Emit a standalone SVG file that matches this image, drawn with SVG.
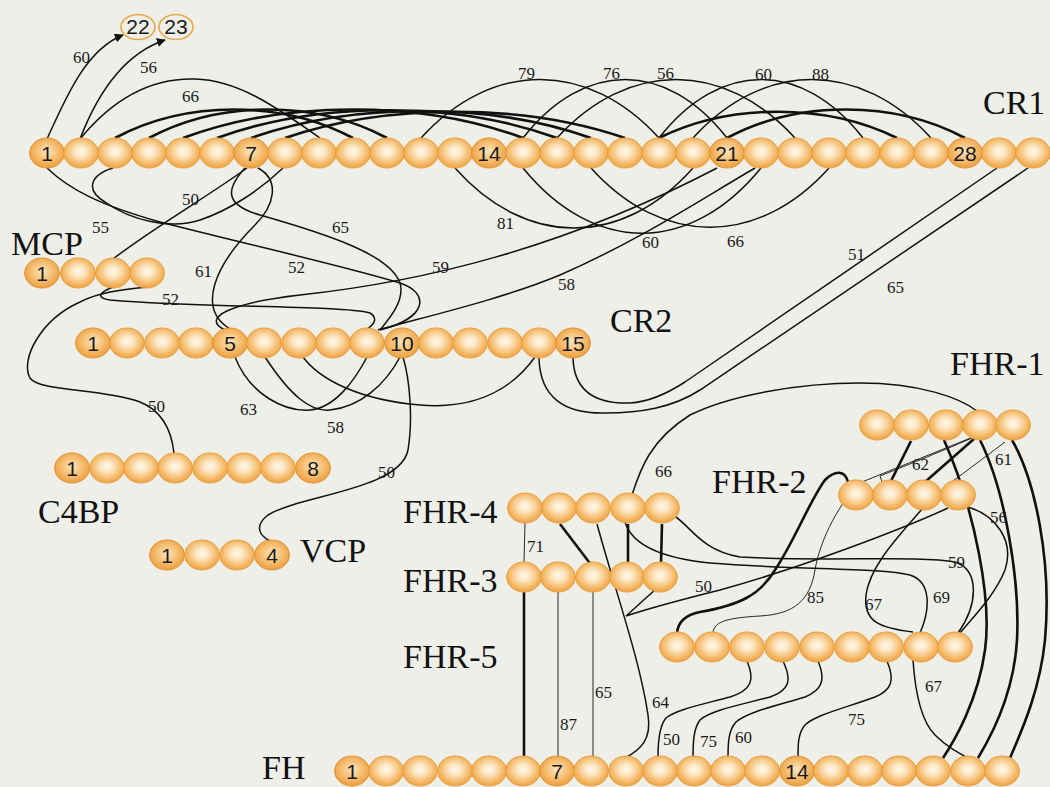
<svg xmlns="http://www.w3.org/2000/svg" width="1050" height="787" viewBox="0 0 1050 787">
<defs>
<radialGradient id="gb" cx="50%" cy="45%" r="55%">
<stop offset="0" stop-color="#fffaf0"/><stop offset="0.35" stop-color="#fbe3bc"/><stop offset="0.75" stop-color="#f5ba6a"/><stop offset="1" stop-color="#eda244"/>
</radialGradient>
<radialGradient id="gn" cx="50%" cy="45%" r="55%">
<stop offset="0" stop-color="#fce6c2"/><stop offset="0.5" stop-color="#f7c27a"/><stop offset="1" stop-color="#ec9e3c"/>
</radialGradient>
<marker id="arr" viewBox="0 0 10 10" refX="9" refY="5" markerWidth="9" markerHeight="9" orient="auto" markerUnits="userSpaceOnUse">
<path d="M0,0 L10,5 L0,10 z" fill="#111"/>
</marker>
<style>
.b{fill:url(#gb);stroke:#e9a040;stroke-width:1}
.n{fill:url(#gn);stroke:#e29230;stroke-width:1}
.c{fill:none;stroke:#111;stroke-width:1.5}
.k{fill:none;stroke:#111;stroke-width:2.6}
.t{fill:none;stroke:#111;stroke-width:0.9}
.num{font-family:"Liberation Sans",Arial,sans-serif;font-size:21px;fill:#1a1a1a;text-anchor:middle}
.lab{font-family:"Liberation Serif","Times New Roman",serif;font-size:17px;fill:#1a1a1a}
.big{font-family:"Liberation Serif","Times New Roman",serif;font-size:34px;fill:#111}
</style>
</defs>
<rect width="1050" height="787" fill="#eeefe8"/>

<g id="connectors">
<path class="c" d="M47,139 C65,100 85,50 123,35" marker-end="url(#arr)"/>
<path class="c" d="M80,139 C95,100 120,55 165,40" marker-end="url(#arr)"/>
<path class="c" d="M80,139 C120,90 160,78 195,79 C240,80 280,110 320,138"/>
<path class="k" d="M115,138 C186,100 282,100 353,138"/>
<path class="k" d="M149,138 C220,100 316,100 387,138"/>
<path class="k" d="M183,138 C285,100 421,100 523,138"/>
<path class="k" d="M217,138 C319,101 455,101 557,138"/>
<path class="k" d="M251,138 C353,102 489,102 591,138"/>
<path class="k" d="M285,138 C387,103 523,103 625,138"/>
<path class="k" d="M659,138 C730,103 826,103 897,138"/>
<path class="k" d="M727,138 C798,100 894,100 965,138"/>
<path class="c" d="M421,138 C492,60 588,60 659,138"/>
<path class="c" d="M523,138 C584,60 666,60 727,138"/>
<path class="c" d="M557,138 C628,60 724,60 795,138"/>
<path class="c" d="M659,138 C720,60 802,60 863,138"/>
<path class="c" d="M693,138 C764,60 860,60 931,138"/>
<path class="c" d="M455,168 C526,248 622,248 693,168"/>
<path class="c" d="M523,168 C594,255 690,255 761,168"/>
<path class="c" d="M591,168 C662,247 758,247 829,168"/>
<path class="c" d="M225,330 C200,318 230,303 300,295 C420,282 560,250 717,168"/>
<path class="c" d="M378,330 C420,318 500,300 560,275 C640,240 700,200 755,168"/>
<path class="c" d="M245,168 C225,190 225,205 260,215 C330,235 390,255 400,283 C405,300 390,318 380,330"/>
<path class="c" d="M47,168 C70,190 100,205 160,222 C250,245 340,265 400,283 C430,293 428,318 380,330"/>
<path class="c" d="M258,168 C280,180 275,205 255,225 C215,265 195,310 232,330"/>
<path class="c" d="M247,168 C210,195 150,230 113,259"/>
<path class="c" d="M113,168 C90,175 85,190 105,202 C130,220 170,230 200,220 C230,210 260,190 283,168"/>
<path class="c" d="M113,287 C100,292 95,298 110,300 C200,308 340,305 370,313 C378,318 375,325 365,330"/>
<path class="c" d="M147,287 C120,290 100,292 80,302 C40,320 20,360 30,378 C40,392 100,388 140,402 C165,412 172,435 174,453"/>
<path class="c" d="M235,357 C250,395 285,412 310,410 C335,408 355,380 367,357"/>
<path class="c" d="M265,357 C290,395 310,412 330,410 C360,407 385,385 400,357"/>
<path class="c" d="M303,357 C320,380 360,400 420,405 C480,410 515,385 535,357"/>
<path class="c" d="M403,357 C410,380 413,420 408,450 C400,490 300,495 268,515 C255,525 258,535 270,541"/>
<path class="c" d="M573,358 C574,392 596,404 630,403 C650,402 668,393 685,382 L997,168"/>
<path class="c" d="M539,358 C540,398 565,414 605,413 C640,413 672,408 700,390 L1028,168"/>
<path class="t" d="M525,523 L524,562"/>
<path class="k" d="M560,524 L592,566"/>
<path class="k" d="M628,524 L628,563"/>
<path class="k" d="M662,524 L661,563"/>
<path class="c" d="M597,524 C615,590 640,660 648,715 C652,740 640,750 625,758"/>
<path class="c" d="M632,495 C640,470 650,440 690,415 C730,395 800,383 860,383 C920,383 960,398 977,411"/>
<path class="c" d="M625,522 C632,545 660,558 710,563 C800,570 880,568 910,575 C932,582 930,610 920,633"/>
<path class="c" d="M673,515 C690,525 700,550 740,557 C820,562 920,555 955,562 C980,570 978,605 958,633"/>
<path class="c" d="M657,588 L626,616 C650,608 680,600 720,590 C800,568 900,530 948,508"/>
<path class="t" d="M713,632 C715,622 725,618 760,616 C795,614 810,600 815,570 C820,540 840,500 862,482 L973,437"/>
<path class="t" d="M972,438 C940,452 900,468 880,476 L885,490"/>
<path class="k" d="M911,441 L891,481"/>
<path class="k" d="M975,438 L925,482"/>
<path class="t" d="M1005,442 L953,481"/>
<path class="c" d="M968,507 C995,515 1015,540 1005,570 C995,595 975,615 960,633"/>
<path class="c" d="M922,509 C900,535 870,565 866,595 C863,622 880,628 913,632"/>
<path class="k" d="M848,482 C845,470 835,470 825,480 C810,500 795,540 775,570 C760,595 740,605 700,612 C685,615 678,622 677,633"/>
<path class="k" d="M944,440 C975,510 992,600 985,650 C978,700 955,740 943,758"/>
<path class="k" d="M980,440 C1005,490 1020,580 1017,640 C1014,690 995,730 978,758"/>
<path class="k" d="M1012,440 C1035,480 1052,560 1045,640 C1040,690 1022,730 1010,758"/>
<path class="c" d="M913,660 C915,690 920,720 935,735 C950,750 965,757 977,762"/>
<path class="k" d="M524,592 L524,757"/>
<path class="t" d="M558,592 L558,757"/>
<path class="t" d="M593,592 L593,757"/>
<path class="c" d="M747,661 C755,680 752,690 730,697 C700,705 675,710 666,718 C660,725 658,740 658,757"/>
<path class="c" d="M783,661 C792,680 790,690 770,697 C740,705 712,710 700,720 C694,728 693,740 693,757"/>
<path class="c" d="M818,661 C826,680 822,690 805,697 C775,706 748,712 736,722 C729,730 728,740 728,757"/>
<path class="c" d="M887,661 C895,680 892,690 875,697 C845,708 815,715 805,725 C798,733 798,745 798,757"/>
</g>

<g id="labels">
<text class="lab" x="73" y="63">60</text>
<text class="lab" x="140" y="73">56</text>
<text class="lab" x="182" y="102">66</text>
<text class="lab" x="518" y="79">79</text>
<text class="lab" x="603" y="79">76</text>
<text class="lab" x="657" y="79">56</text>
<text class="lab" x="755" y="80">60</text>
<text class="lab" x="812" y="80">88</text>
<text class="lab" x="92" y="233">55</text>
<text class="lab" x="182" y="205">50</text>
<text class="lab" x="332" y="233">65</text>
<text class="lab" x="195" y="277">61</text>
<text class="lab" x="288" y="273">52</text>
<text class="lab" x="162" y="305">52</text>
<text class="lab" x="432" y="273">59</text>
<text class="lab" x="497" y="229">81</text>
<text class="lab" x="642" y="248">60</text>
<text class="lab" x="558" y="290">58</text>
<text class="lab" x="727" y="247">66</text>
<text class="lab" x="848" y="260">51</text>
<text class="lab" x="887" y="293">65</text>
<text class="lab" x="240" y="415">63</text>
<text class="lab" x="327" y="433">58</text>
<text class="lab" x="148" y="412">50</text>
<text class="lab" x="378" y="478">50</text>
<text class="lab" x="655" y="477">66</text>
<text class="lab" x="527" y="552">71</text>
<text class="lab" x="695" y="592">50</text>
<text class="lab" x="807" y="603">85</text>
<text class="lab" x="865" y="610">67</text>
<text class="lab" x="933" y="603">69</text>
<text class="lab" x="948" y="568">59</text>
<text class="lab" x="990" y="523">56</text>
<text class="lab" x="912" y="470">62</text>
<text class="lab" x="995" y="465">61</text>
<text class="lab" x="595" y="698">65</text>
<text class="lab" x="560" y="730">87</text>
<text class="lab" x="652" y="708">64</text>
<text class="lab" x="663" y="745">50</text>
<text class="lab" x="700" y="747">75</text>
<text class="lab" x="735" y="743">60</text>
<text class="lab" x="848" y="725">75</text>
<text class="lab" x="925" y="692">67</text>
</g>

<g id="n22">
<ellipse cx="138" cy="27" rx="17" ry="12.5" fill="none" stroke="#e9a848" stroke-width="1.6"/>
<text class="num" x="138" y="34" font-size="20">22</text>
</g>
<g id="n23">
<ellipse cx="176" cy="27" rx="17" ry="12.5" fill="none" stroke="#e9a848" stroke-width="1.6"/>
<text class="num" x="176" y="34" font-size="20">23</text>
</g>

<g id="CR1">
<ellipse class="n" cx="47" cy="153" rx="17.5" ry="15"/><ellipse class="b" cx="81" cy="153" rx="17.5" ry="15"/><ellipse class="b" cx="115" cy="153" rx="17.5" ry="15"/><ellipse class="b" cx="149" cy="153" rx="17.5" ry="15"/><ellipse class="b" cx="183" cy="153" rx="17.5" ry="15"/><ellipse class="b" cx="217" cy="153" rx="17.5" ry="15"/><ellipse class="n" cx="251" cy="153" rx="17.5" ry="15"/><ellipse class="b" cx="285" cy="153" rx="17.5" ry="15"/><ellipse class="b" cx="319" cy="153" rx="17.5" ry="15"/><ellipse class="b" cx="353" cy="153" rx="17.5" ry="15"/><ellipse class="b" cx="387" cy="153" rx="17.5" ry="15"/><ellipse class="b" cx="421" cy="153" rx="17.5" ry="15"/><ellipse class="b" cx="455" cy="153" rx="17.5" ry="15"/><ellipse class="n" cx="489" cy="153" rx="17.5" ry="15"/><ellipse class="b" cx="523" cy="153" rx="17.5" ry="15"/><ellipse class="b" cx="557" cy="153" rx="17.5" ry="15"/><ellipse class="b" cx="591" cy="153" rx="17.5" ry="15"/><ellipse class="b" cx="625" cy="153" rx="17.5" ry="15"/><ellipse class="b" cx="659" cy="153" rx="17.5" ry="15"/><ellipse class="b" cx="693" cy="153" rx="17.5" ry="15"/><ellipse class="n" cx="727" cy="153" rx="17.5" ry="15"/><ellipse class="b" cx="761" cy="153" rx="17.5" ry="15"/><ellipse class="b" cx="795" cy="153" rx="17.5" ry="15"/><ellipse class="b" cx="829" cy="153" rx="17.5" ry="15"/><ellipse class="b" cx="863" cy="153" rx="17.5" ry="15"/><ellipse class="b" cx="897" cy="153" rx="17.5" ry="15"/><ellipse class="b" cx="931" cy="153" rx="17.5" ry="15"/><ellipse class="n" cx="965" cy="153" rx="17.5" ry="15"/><ellipse class="b" cx="999" cy="153" rx="17.5" ry="15"/><ellipse class="b" cx="1033" cy="153" rx="17.5" ry="15"/>
<text class="num" x="47" y="161">1</text><text class="num" x="251" y="161">7</text><text class="num" x="489" y="161">14</text><text class="num" x="727" y="161">21</text><text class="num" x="965" y="161">28</text>
<text class="big" x="983" y="114">CR1</text>
</g>

<g id="MCP">
<ellipse class="n" cx="42" cy="273" rx="17.5" ry="15"/><ellipse class="b" cx="78" cy="273" rx="17.5" ry="15"/><ellipse class="b" cx="113" cy="273" rx="17.5" ry="15"/><ellipse class="b" cx="147" cy="273" rx="17.5" ry="15"/>
<text class="num" x="42" y="281">1</text>
<text class="big" x="11" y="255">MCP</text>
</g>

<g id="CR2">
<ellipse class="n" cx="93" cy="343" rx="17.5" ry="15"/><ellipse class="b" cx="127" cy="343" rx="17.5" ry="15"/><ellipse class="b" cx="162" cy="343" rx="17.5" ry="15"/><ellipse class="b" cx="196" cy="343" rx="17.5" ry="15"/><ellipse class="n" cx="230" cy="343" rx="17.5" ry="15"/><ellipse class="b" cx="264" cy="343" rx="17.5" ry="15"/><ellipse class="b" cx="299" cy="343" rx="17.5" ry="15"/><ellipse class="b" cx="333" cy="343" rx="17.5" ry="15"/><ellipse class="b" cx="367" cy="343" rx="17.5" ry="15"/><ellipse class="n" cx="402" cy="343" rx="17.5" ry="15"/><ellipse class="b" cx="436" cy="343" rx="17.5" ry="15"/><ellipse class="b" cx="470" cy="343" rx="17.5" ry="15"/><ellipse class="b" cx="505" cy="343" rx="17.5" ry="15"/><ellipse class="b" cx="539" cy="343" rx="17.5" ry="15"/><ellipse class="n" cx="573" cy="343" rx="17.5" ry="15"/>
<text class="num" x="93" y="351">1</text><text class="num" x="230" y="351">5</text><text class="num" x="402" y="351">10</text><text class="num" x="573" y="351">15</text>
<text class="big" x="610" y="332">CR2</text>
</g>

<g id="C4BP">
<ellipse class="n" cx="72" cy="468" rx="17.5" ry="15"/><ellipse class="b" cx="107" cy="468" rx="17.5" ry="15"/><ellipse class="b" cx="141" cy="468" rx="17.5" ry="15"/><ellipse class="b" cx="175" cy="468" rx="17.5" ry="15"/><ellipse class="b" cx="210" cy="468" rx="17.5" ry="15"/><ellipse class="b" cx="244" cy="468" rx="17.5" ry="15"/><ellipse class="b" cx="278" cy="468" rx="17.5" ry="15"/><ellipse class="n" cx="313" cy="468" rx="17.5" ry="15"/>
<text class="num" x="72" y="476">1</text><text class="num" x="313" y="476">8</text>
<text class="big" x="38" y="523">C4BP</text>
</g>

<g id="VCP">
<ellipse class="n" cx="167" cy="555" rx="17.5" ry="15"/><ellipse class="b" cx="202" cy="555" rx="17.5" ry="15"/><ellipse class="b" cx="237" cy="555" rx="17.5" ry="15"/><ellipse class="n" cx="272" cy="555" rx="17.5" ry="15"/>
<text class="num" x="167" y="563">1</text><text class="num" x="272" y="563">4</text>
<text class="big" x="300" y="562">VCP</text>
</g>

<g id="FHR-1">
<ellipse class="b" cx="877" cy="425" rx="17.5" ry="15"/><ellipse class="b" cx="911" cy="425" rx="17.5" ry="15"/><ellipse class="b" cx="946" cy="425" rx="17.5" ry="15"/><ellipse class="b" cx="980" cy="425" rx="17.5" ry="15"/><ellipse class="b" cx="1013" cy="425" rx="17.5" ry="15"/>
<text class="big" x="950" y="375">FHR-1</text>
</g>

<g id="FHR-2">
<ellipse class="b" cx="856" cy="495" rx="17.5" ry="15"/><ellipse class="b" cx="890" cy="495" rx="17.5" ry="15"/><ellipse class="b" cx="924" cy="495" rx="17.5" ry="15"/><ellipse class="b" cx="958" cy="495" rx="17.5" ry="15"/>
<text class="big" x="712" y="493">FHR-2</text>
</g>

<g id="FHR-4">
<ellipse class="b" cx="525" cy="508" rx="17.5" ry="15"/><ellipse class="b" cx="559" cy="508" rx="17.5" ry="15"/><ellipse class="b" cx="593" cy="508" rx="17.5" ry="15"/><ellipse class="b" cx="628" cy="508" rx="17.5" ry="15"/><ellipse class="b" cx="662" cy="508" rx="17.5" ry="15"/>
<text class="big" x="403" y="523">FHR-4</text>
</g>

<g id="FHR-3">
<ellipse class="b" cx="524" cy="577" rx="17.5" ry="15"/><ellipse class="b" cx="558" cy="577" rx="17.5" ry="15"/><ellipse class="b" cx="593" cy="577" rx="17.5" ry="15"/><ellipse class="b" cx="627" cy="577" rx="17.5" ry="15"/><ellipse class="b" cx="660" cy="577" rx="17.5" ry="15"/>
<text class="big" x="403" y="592">FHR-3</text>
</g>

<g id="FHR-5">
<ellipse class="b" cx="677" cy="647" rx="17.5" ry="15"/><ellipse class="b" cx="712" cy="647" rx="17.5" ry="15"/><ellipse class="b" cx="747" cy="647" rx="17.5" ry="15"/><ellipse class="b" cx="782" cy="647" rx="17.5" ry="15"/><ellipse class="b" cx="817" cy="647" rx="17.5" ry="15"/><ellipse class="b" cx="852" cy="647" rx="17.5" ry="15"/><ellipse class="b" cx="886" cy="647" rx="17.5" ry="15"/><ellipse class="b" cx="921" cy="647" rx="17.5" ry="15"/><ellipse class="b" cx="955" cy="647" rx="17.5" ry="15"/>
<text class="big" x="403" y="668">FHR-5</text>
</g>

<g id="FH">
<ellipse class="n" cx="352" cy="771" rx="17.5" ry="15"/><ellipse class="b" cx="386" cy="771" rx="17.5" ry="15"/><ellipse class="b" cx="420" cy="771" rx="17.5" ry="15"/><ellipse class="b" cx="455" cy="771" rx="17.5" ry="15"/><ellipse class="b" cx="489" cy="771" rx="17.5" ry="15"/><ellipse class="b" cx="523" cy="771" rx="17.5" ry="15"/><ellipse class="n" cx="557" cy="771" rx="17.5" ry="15"/><ellipse class="b" cx="591" cy="771" rx="17.5" ry="15"/><ellipse class="b" cx="626" cy="771" rx="17.5" ry="15"/><ellipse class="b" cx="660" cy="771" rx="17.5" ry="15"/><ellipse class="b" cx="694" cy="771" rx="17.5" ry="15"/><ellipse class="b" cx="728" cy="771" rx="17.5" ry="15"/><ellipse class="b" cx="762" cy="771" rx="17.5" ry="15"/><ellipse class="n" cx="797" cy="771" rx="17.5" ry="15"/><ellipse class="b" cx="831" cy="771" rx="17.5" ry="15"/><ellipse class="b" cx="865" cy="771" rx="17.5" ry="15"/><ellipse class="b" cx="899" cy="771" rx="17.5" ry="15"/><ellipse class="b" cx="933" cy="771" rx="17.5" ry="15"/><ellipse class="b" cx="968" cy="771" rx="17.5" ry="15"/><ellipse class="b" cx="1002" cy="771" rx="17.5" ry="15"/>
<text class="num" x="352" y="779">1</text><text class="num" x="557" y="779">7</text><text class="num" x="797" y="779">14</text>
<text class="big" x="262" y="779">FH</text>
</g>
</svg>
